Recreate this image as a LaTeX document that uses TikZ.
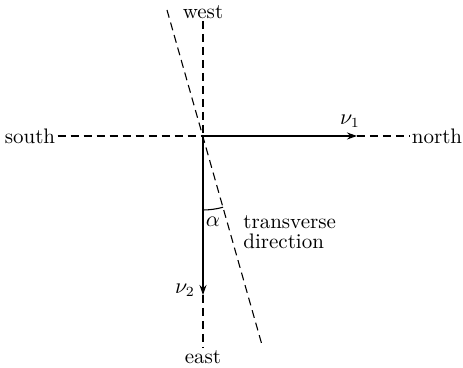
\documentclass[tikz,border=0pt]{standalone}
\usetikzlibrary{arrows.meta}
\begin{document}
\begin{tikzpicture}[
    x=0.5pt, y=0.5pt,
    >={Stealth[length=5pt, width=3.5pt]},
    axis/.style={dashed, dash pattern=on 4pt off 2.5pt, line width=0.55pt},
    vel/.style={->, line width=0.55pt},
    lbl/.style={font=\fontsize{10.5}{10}\selectfont, inner sep=1pt}
]
\useasboundingbox (0,0) rectangle (463,368);

% Compass labels
\node[lbl] (south) at (30, 232) {south};
\node[lbl] (north) at (437, 232) {north};
\node[lbl] (west) at (203, 356) {west};
\node[lbl] (east) at (203, 11) {east};

% Key points
\coordinate (O) at (203, 232);
\coordinate (tip1) at (357, 232);
\coordinate (tip2) at (203, 73);
\coordinate (slanttop) at (167, 358);
\coordinate (slantbot) at (262, 23);

% Dashed axes
\draw[axis] (south.east) -- (O);
\draw[axis] (tip1) -- (north.west);
\draw[axis] (west.south) -- (O);
\draw[axis] (tip2) -- (east.north);

% Transverse direction
\draw[axis] (slanttop) -- (slantbot);

% Velocities
\draw[vel] (O) -- (tip1);
\draw[vel] (O) -- (tip2);
\node[lbl] (v1) at (350, 247) {$\nu_1$};
\node[lbl] (v2) at (185, 78) {$\nu_2$};

% Angle
\draw[line width=0.55pt] (O) ++(-90:74) arc (-90:-74.25:74);
\node[lbl] (alpha) at (213, 146) {$\alpha$};
\node[lbl, anchor=west, align=left] (trans) at (241, 136) {transverse\\direction};

\end{tikzpicture}
\end{document}
